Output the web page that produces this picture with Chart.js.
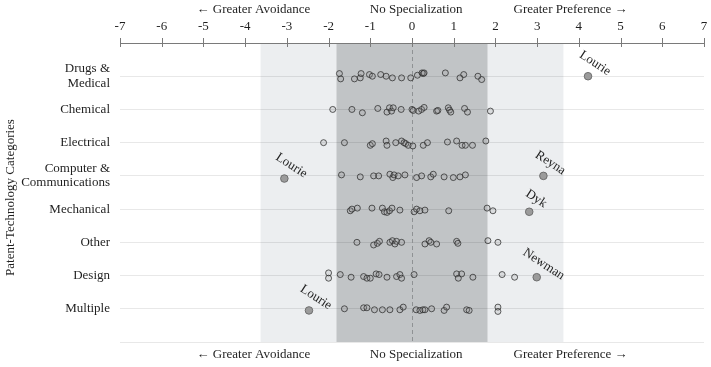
<!DOCTYPE html>
<html>
<head>
<meta charset="utf-8">
<script src="https://cdn.jsdelivr.net/npm/chart.js@4/dist/chart.umd.min.js"></script>
<style>
  html, body { margin: 0; padding: 0; background: #fff; overflow: hidden; }
  canvas { display: block; }
</style>
</head>
<body>
<canvas id="c" width="711" height="367"></canvas>
<script>
// categories, top to bottom
const categories = [['Drugs &', 'Medical'], 'Chemical', 'Electrical', ['Computer &', 'Communications'], 'Mechanical', 'Other', 'Design', 'Multiple'];

// per-judge specialization scores (jitter = small vertical spread)
const drugsValues = [-1.74, -1.71, -1.38, -1.24, -1.22, -1.02, -0.95, -0.75, -0.62, -0.47, -0.25, -0.03, 0.13, 0.24, 0.27, 0.29, 0.80, 1.15, 1.24, 1.58, 1.67];
const drugsJitter = [-0.08, 0.08, 0.08, 0.05, -0.08, -0.05, 0, -0.05, 0, 0.05, 0.05, 0.05, -0.03, -0.1, -0.08, -0.1, -0.1, 0.05, -0.05, 0, 0.1];
const chemicalValues = [-1.90, -1.44, -1.19, -0.82, -0.60, -0.54, -0.49, -0.45, -0.26, 0.00, 0.03, 0.16, 0.23, 0.29, 0.59, 0.62, 0.87, 0.90, 0.93, 1.26, 1.33, 1.88];
const chemicalJitter = [0, 0, 0.1, -0.03, 0.08, -0.05, 0.05, -0.05, 0, 0, 0.03, 0.05, 0, -0.06, 0.05, 0.03, -0.05, 0.02, 0.08, -0.03, 0.08, 0.05];
const electricalValues = [-2.12, -1.62, -1.00, -0.95, -0.62, -0.60, -0.39, -0.25, -0.19, -0.15, -0.09, 0.02, 0.27, 0.37, 0.85, 1.07, 1.20, 1.28, 1.45, 1.77];
const electricalJitter = [0, 0, 0.08, 0.03, -0.05, 0.08, 0, -0.05, 0, 0.03, 0.08, 0.1, 0.08, 0, -0.02, -0.05, 0.08, 0.08, 0.08, -0.05];
const computerValues = [-1.69, -1.24, -0.92, -0.80, -0.53, -0.46, -0.43, -0.33, -0.17, 0.11, 0.23, 0.45, 0.51, 0.77, 0.99, 1.15, 1.28];
const computerJitter = [-0.03, 0.03, 0, 0, -0.05, 0.05, -0.03, 0, -0.03, 0.05, 0, 0.03, -0.05, 0.03, 0.05, 0.03, -0.03];
const mechanicalValues = [-1.48, -1.44, -1.31, -0.96, -0.71, -0.66, -0.60, -0.54, -0.48, -0.29, 0.05, 0.11, 0.19, 0.31, 0.88, 1.80, 1.94];
const mechanicalJitter = [0.05, 0, -0.03, -0.03, -0.03, 0.08, 0.1, 0.05, -0.03, 0.03, 0.08, 0, 0.05, 0.03, 0.05, -0.03, 0.05];
const otherValues = [-1.32, -0.92, -0.83, -0.78, -0.53, -0.47, -0.41, -0.37, -0.25, 0.31, 0.41, 0.45, 0.59, 1.07, 1.10, 1.82, 2.06];
const otherJitter = [0, 0.08, 0.03, -0.03, 0, -0.05, 0.05, -0.03, 0, 0.05, -0.05, 0, 0.05, -0.03, 0.03, -0.05, 0];
const designValues = [-2.00, -2.00, -1.72, -1.46, -1.16, -1.08, -1.00, -0.86, -0.79, -0.60, -0.37, -0.29, -0.25, 0.05, 1.07, 1.11, 1.19, 1.46, 2.16, 2.46];
const designJitter = [-0.08, 0.08, -0.03, 0.05, 0.03, 0.08, 0.08, -0.05, -0.03, 0.05, 0.03, -0.03, 0.08, -0.03, -0.05, 0.08, -0.05, 0.05, -0.03, 0.05];
const multipleValues = [-1.62, -1.16, -1.08, -0.90, -0.71, -0.53, -0.29, -0.21, 0.10, 0.19, 0.26, 0.31, 0.47, 0.77, 0.83, 1.31, 1.37, 2.06, 2.06];
const multipleJitter = [0, -0.03, -0.03, 0.03, 0.03, 0.03, 0.03, -0.05, 0.03, 0.05, 0.03, 0.03, 0, 0.05, -0.05, 0.03, 0.05, -0.05, 0.08];

// named outliers
const outlierNames = ['Lourie', 'Lourie', 'Reyna', 'Dyk', 'Newman', 'Lourie'];
const outlierCategory = [0, 3, 3, 4, 6, 7];
const outlierValues = [4.22, -3.06, 3.15, 2.81, 2.99, -2.47];
const outlierJitter = [0, 0.08, 0, 0.08, 0.05, 0.05];

// x axis ticks, shaded bands and direction labels
const xTicks = [-7, -6, -5, -4, -3, -2, -1, 0, 1, 2, 3, 4, 5, 6, 7];
const outerBand = [-3.63, 3.63];
const innerBand = [-1.81, 1.81];
const directionLabels = ['\u2190 Greater Avoidance', 'No Specialization', 'Greater Preference \u2192'];
const directionAt = [-3.8, 0.1, 3.8];

const FONT = '"Liberation Serif", "Times New Roman", serif';
const TEXT = '#1f1f1f';

const rows = [
  [drugsValues, drugsJitter], [chemicalValues, chemicalJitter], [electricalValues, electricalJitter],
  [computerValues, computerJitter], [mechanicalValues, mechanicalJitter], [otherValues, otherJitter],
  [designValues, designJitter], [multipleValues, multipleJitter],
];

const judgePoints = [];
rows.forEach(([vals, jit], i) => {
  vals.forEach((v, k) => judgePoints.push({ x: v, y: i + jit[k] }));
});
const outlierPoints = outlierValues.map((v, k) => ({ x: v, y: outlierCategory[k] + outlierJitter[k] }));

const decorPlugin = {
  id: 'decor',
  beforeDraw(chart) {
    const { ctx, chartArea: a, scales: { x } } = chart;
    ctx.save();
    ctx.fillStyle = '#eceef0';
    ctx.fillRect(x.getPixelForValue(outerBand[0]), a.top, x.getPixelForValue(outerBand[1]) - x.getPixelForValue(outerBand[0]), a.bottom - a.top);
    ctx.fillStyle = '#c1c4c6';
    ctx.fillRect(x.getPixelForValue(innerBand[0]), a.top, x.getPixelForValue(innerBand[1]) - x.getPixelForValue(innerBand[0]), a.bottom - a.top);
    ctx.restore();
  },
  beforeDatasetsDraw(chart) {
    const { ctx, chartArea: a, scales: { x } } = chart;
    ctx.save();
    ctx.strokeStyle = '#8f9294';
    ctx.lineWidth = 1;
    ctx.setLineDash([4, 3]);
    const zx = Math.round(x.getPixelForValue(0)) + 0.5;
    ctx.beginPath();
    ctx.moveTo(zx, a.top);
    ctx.lineTo(zx, a.bottom);
    ctx.stroke();
    ctx.restore();
  },
  afterDraw(chart) {
    const { ctx, chartArea: a, scales: { x, y } } = chart;
    ctx.save();
    // tick marks crossing the top axis line
    ctx.strokeStyle = '#7a7a7a';
    ctx.lineWidth = 1;
    xTicks.forEach((t) => {
      const px = Math.round(x.getPixelForValue(t)) + 0.5;
      ctx.beginPath();
      ctx.moveTo(px, a.top - 5);
      ctx.lineTo(px, a.top + 4);
      ctx.stroke();
    });
    // direction labels, top and bottom
    ctx.fillStyle = TEXT;
    ctx.font = '13px ' + FONT;
    ctx.textAlign = 'center';
    ctx.textBaseline = 'middle';
    directionLabels.forEach((lbl, i) => {
      const px = x.getPixelForValue(directionAt[i]);
      ctx.fillText(lbl, px, 10);
      ctx.fillText(lbl, px, a.bottom + 13);
    });
    // y axis title
    ctx.save();
    ctx.translate(11, (a.top + a.bottom) / 2 + 5);
    ctx.rotate(-Math.PI / 2);
    ctx.fillText('Patent-Technology Categories', 0, 0);
    ctx.restore();
    // outlier name labels
    ctx.font = '13px ' + FONT;
    outlierPoints.forEach((p, i) => {
      ctx.save();
      ctx.translate(x.getPixelForValue(p.x) + 7, y.getPixelForValue(p.y) - 13);
      ctx.rotate(33 * Math.PI / 180);
      ctx.fillText(outlierNames[i], 0, 0);
      ctx.restore();
    });
    ctx.restore();
  },
};

new Chart(document.getElementById('c'), {
  type: 'scatter',
  data: {
    datasets: [
      {
        label: 'Judges',
        data: judgePoints,
        pointRadius: 3,
        pointHoverRadius: 3,
        borderWidth: 0.9,
        borderColor: 'rgba(45,45,45,0.85)',
        backgroundColor: 'rgba(150,150,150,0.2)',
      },
      {
        label: 'Outliers',
        data: outlierPoints,
        pointRadius: 3.8,
        pointHoverRadius: 3.8,
        borderWidth: 0.9,
        borderColor: '#666',
        backgroundColor: '#9b9b9b',
      },
    ],
  },
  options: {
    responsive: false,
    animation: false,
    devicePixelRatio: 1,
    layout: { autoPadding: false, padding: { top: 0, right: 7, bottom: 25, left: 0 } },
    plugins: { legend: { display: false }, tooltip: { enabled: false } },
    scales: {
      x: {
        type: 'linear',
        position: 'top',
        min: -7,
        max: 7,
        afterFit(scale) {
          scale.height = 43;
          scale.paddingLeft = 0;
          scale.paddingRight = 0;
        },
        afterBuildTicks(scale) { scale.ticks = xTicks.map((v) => ({ value: v })); },
        grid: { display: false, drawTicks: false },
        border: { display: true, color: '#7a7a7a', width: 1 },
        ticks: { color: TEXT, font: { family: FONT, size: 13 }, padding: 9, maxRotation: 0 },
      },
      y: {
        type: 'linear',
        reverse: true,
        min: -1,
        max: 8,
        afterFit(scale) { scale.width = 120; },
        grid: {
          color: (c) => (c.tick && c.tick.value === -1 ? 'rgba(0,0,0,0)' : 'rgba(0,0,0,0.09)'),
          drawTicks: false,
        },
        border: { display: false },
        ticks: {
          stepSize: 1,
          color: TEXT,
          padding: 10,
          font: { family: FONT, size: 13, lineHeight: 1.1 },
          callback: (v) => (v >= 0 && v < categories.length ? categories[v] : ''),
        },
      },
    },
  },
  plugins: [decorPlugin],
});
</script>
</body>
</html>
